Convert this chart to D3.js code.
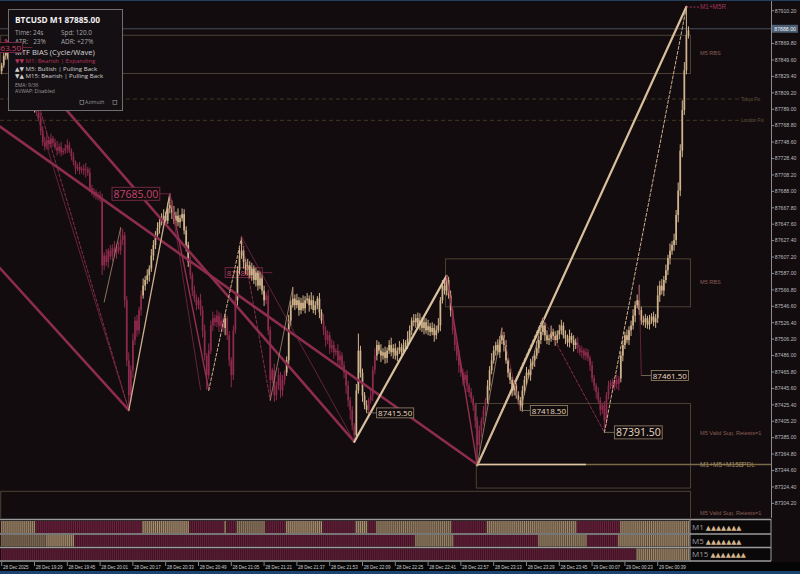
<!DOCTYPE html>
<html>
<head>
<meta charset="utf-8">
<script src="https://d3js.org/d3.v7.min.js"></script>
<style>
  html, body { margin: 0; padding: 0; background: #120c0f; }
  svg { display: block; }
  .ax { font-family: "Liberation Sans", Arial, sans-serif; }
  .ui { font-family: "Open Sans", "Noto Sans", sans-serif; }
  .sym { font-family: "DejaVu Sans", sans-serif; }
</style>
</head>
<body>
<svg id="chart" width="800" height="574"></svg>
<script>
// ---- data (M1 bars, BTCUSD) ----
const firstOpen = 87836;
const closes = [
  87843, 87855, 87864, 87852, 87842, 87834, 87837, 87827, 87820, 87822, 87812, 87806, 87810, 87800, 87795, 87799, 87790, 87785,
  87778, 87763, 87748, 87743, 87751, 87746, 87753, 87748, 87742, 87738, 87743, 87736, 87738, 87741, 87745, 87738, 87731, 87724,
  87716, 87718, 87714, 87716, 87714, 87715, 87711, 87692, 87686, 87687, 87682, 87683, 87679,
  87597, 87609, 87601, 87615, 87608, 87618, 87613, 87620, 87615, 87628, 87634, 87554, 87480, 87437, 87468, 87505, 87529, 87517, 87542,
  87560, 87572, 87579, 87585, 87593, 87609, 87622, 87634, 87643, 87650, 87655, 87658, 87652, 87667, 87671, 87662, 87652, 87658,
  87650, 87655, 87660, 87640, 87622, 87601, 87585, 87566, 87556, 87548, 87554, 87542, 87517, 87486, 87462, 87492, 87523, 87532,
  87527, 87535, 87523, 87529, 87520, 87532, 87511, 87480, 87462, 87517, 87554, 87591, 87609, 87615, 87601, 87591, 87597, 87585,
  87593, 87579, 87588, 87572, 87581,
  87566, 87554, 87560, 87517, 87456, 87468, 87437, 87449, 87462, 87443, 87456, 87465, 87480, 87529, 87548, 87556, 87548, 87554,
  87542, 87551, 87544, 87554, 87556, 87548, 87554, 87542, 87548, 87556, 87539, 87529, 87517, 87505, 87511, 87495, 87499, 87490,
  87492, 87480, 87486, 87474, 87465, 87449, 87431, 87419, 87400, 87388, 87443, 87492, 87465, 87437, 87425, 87419, 87431, 87437,
  87468, 87486, 87499, 87492, 87486, 87490, 87483, 87492, 87499, 87490, 87495, 87486, 87492, 87496, 87490, 87499, 87502, 87507,
  87517, 87529, 87527, 87532, 87523, 87529, 87520, 87527, 87517, 87522, 87515, 87520, 87511, 87517, 87523, 87554, 87572, 87566,
  87579, 87560, 87542, 87517, 87499, 87486, 87474, 87465, 87456, 87462, 87449, 87441, 87433, 87425, 87406, 87376,
  87394, 87406, 87419, 87431, 87449, 87468, 87480, 87492, 87499, 87490, 87505, 87511, 87499, 87480, 87465, 87456, 87443, 87449,
  87437, 87431, 87425, 87443, 87456, 87465, 87462, 87474, 87480, 87486, 87495, 87505, 87515, 87523, 87511, 87505, 87507, 87515,
  87510, 87505, 87512, 87517, 87523, 87511, 87507, 87502, 87510, 87505, 87499, 87502, 87495, 87490, 87492, 87486, 87490, 87483,
  87474, 87458, 87449, 87441, 87431, 87419, 87425, 87406, 87437, 87449, 87453, 87448, 87456, 87451, 87458, 87486, 87499, 87511,
  87505, 87517, 87523, 87535, 87548, 87554, 87542, 87529, 87527, 87532, 87524, 87529, 87534, 87527, 87532, 87560, 87572, 87566,
  87579, 87591, 87606, 87615, 87622, 87628, 87659, 87689, 87738, 87788, 87837, 87880, 87886
];
const wickHi = [
  3,4,2,5,3,6,2,4,3,5,2,4,6,3,2,5,
  4,3,8,6,5,7,9,4,6,3,5,8,4,6,3,5,
  7,4,3,5,2,4,6,3,5,8,3,6,4,5,3,4,
  5,6,4,8,3,7,5,9,4,6,16,8,4,5,10,6,
  8,5,7,4,6,9,5,7,4,8,6,5,7,4,6,8,
  5,7,14,6,8,5,9,4,7,6,5,4,7,3,6,5,
  4,8,5,7,3,9,6,8,4,7,5,9,4,6,3,5,
  4,6,8,5,9,17,6,4,8,5,7,4,6,3,8,5,
  6,4,7,5,3,8,5,9,4,6,3,5,7,6,14,5,
  8,4,6,9,5,7,4,10,6,5,3,7,4,8,5,6,
  4,7,5,3,8,6,4,5,3,6,4,5,3,8,21,6,
  5,4,6,3,7,5,9,6,4,8,5,7,4,6,9,5,
  6,4,8,5,7,3,9,6,4,8,5,7,9,4,6,5,
  8,4,7,5,6,9,4,7,5,5,4,6,3,5,4,7,
  3,5,4,6,3,5,4,3,5,6,4,5,3,7,5,9,
  6,4,7,5,9,4,6,3,5,4,7,3,5,4,6,5,
  7,4,8,5,6,9,5,7,9,4,6,5,8,4,6,5,
  7,7,4,6,5,8,4,6,5,7,4,6,3,5,4,3,
  5,4,3,6,4,3,5,4,6,3,5,4,7,3,5,6,
  4,7,5,6,8,5,7,19,4,6,5,3,7,4,6,5,
  12,6,8,5,7,4,9,5,8,6,10,8,12,10,35,5
];
const wickLo = [
  4,3,5,2,4,3,5,4,2,6,3,4,5,3,4,2,
  5,4,3,6,4,5,3,7,4,5,3,6,4,5,3,4,
  6,3,5,4,7,3,5,4,6,9,4,5,3,6,4,5,
  4,12,6,5,7,4,6,5,8,4,5,6,9,7,18,8,
  10,6,8,5,7,4,6,5,8,4,6,5,3,7,4,6,
  5,4,6,8,4,6,5,7,4,5,8,6,5,7,4,6,
  5,7,9,6,18,5,4,7,5,6,8,4,5,9,6,7,
  15,6,4,7,5,4,8,5,6,4,7,5,8,6,4,5,
  7,5,6,25,4,8,6,5,9,7,6,4,5,7,3,6,
  4,7,5,3,6,4,8,5,4,6,5,7,4,6,8,5,
  7,5,8,4,6,9,5,7,10,8,12,6,8,5,4,6,
  8,5,3.5,6,4,7,5,6,4,8,5,7,6,4,5,8,
  5,7,4,6,3,5,8,4,6,5,7,4,6,5,8,4,
  6,5,4,8,5,3,7,4,5,6,4,8,5,7,6,9,
  5,7,4,8,6,5,7,9,25,6,8,5,7,4,6,5,
  4,6,3,7,5,8,4,6,5,7,6,4,5,6.5,8,5,
  6,4,7,5,8,4,6,5,4,7,5,6,4,5,7,4,
  6,5,4,7,5,6,4,8,5,6,4,7,5,6,4,7,
  5,6,8,4,7,5,14.5,6,5,4,7,5,6,8,5,7,
  5,4,6,7,5,8,4,6,5,4,7,5,6,4,5,7,
  6,8,5,7,4,6,8,5,7,6,9,7,8,6,5,4
];

const timeTickBars = [0, 16, 32, 48, 64, 80, 96, 112, 128, 144, 160, 176, 192, 208, 224, 240, 256, 272, 288, 304, 320];
const timeLabels = ["28 Dec 2025", "28 Dec 19:29", "28 Dec 19:45", "28 Dec 20:01", "28 Dec 20:17", "28 Dec 20:33",
  "28 Dec 20:49", "28 Dec 21:05", "28 Dec 21:21", "28 Dec 21:37", "28 Dec 21:53", "28 Dec 22:09", "28 Dec 22:25",
  "28 Dec 22:41", "28 Dec 22:57", "28 Dec 23:13", "28 Dec 23:29", "28 Dec 23:45", "29 Dec 00:07", "29 Dec 00:23", "29 Dec 00:39"];
const priceTicks = [87910.2, 87869.8, 87849.6, 87829.4, 87809.2, 87789.0, 87768.8, 87748.6, 87728.4, 87708.2,
  87688.0, 87667.8, 87647.6, 87627.4, 87607.2, 87587.0, 87566.8, 87546.6, 87526.4, 87506.2, 87486.0, 87465.8,
  87445.6, 87425.4, 87405.2, 87385.0, 87364.8, 87344.6, 87324.4, 87304.2];
const currentPrice = 87888.00;

// bias segments: [fromBar, toBar, direction, strength]
const m1Bias = [[0,17,1,0.8],[17,69,-1,0.9],[69,92,1,0.9],[92,109,-1,0.8],[109,110,1,0.8],[110,115,-1,0.8],
  [115,129,1,0.6],[129,139,-1,0.8],[139,157,1,0.9],[157,173,-1,0.8],[173,179,1,0.9],[179,183,-1,0.8],
  [183,220,1,0.7],[220,237,-1,0.8],[237,281,1,0.8],[281,302,-1,0.9],[302,336,1,0.8]];
const m5Bias = [[0,22,1,0.35],[22,36,1,0.9],[36,202,-1,0.8],[202,221,1,0.7],[221,262,-1,0.8],[262,286,1,0.7],
  [286,301,-1,0.8],[301,336,1,0.8]];
const m15Bias = [[0,310,-1,0.7],[310,336,1,0.8]];
const biasArrows = ["▲▲▲▲▲▲▲", "▲▲▲▲▲▲▲", "▲▲▲▲▲▲▲"];

// zones: price bounds and first bar
const zones = [
  {name: "M5 RBS", top: 87880, bottom: 87833, from: 0},
  {name: "M5 RBS", top: 87605, bottom: 87546, from: 217},
  {name: "M5 Valid Sup, Retests=1", top: 87427, bottom: 87352, from: 232},
  {name: "", top: 87352, bottom: 87323, from: 232},
  {name: "M5 Valid Sup, Retests=1", top: 87319, bottom: 87262, from: 0}
];
const fixLevels = [{name: "Tokyo Fix", price: 87801.6}, {name: "London Fix", price: 87775.4}];
const pdl = {price: 87352, from: 232, brightTo: 285, name: "M1+M5+M15B", tag: "PDL"};
const resLevel = {price: 87914.7, from: 334, name: "M1+M5R"};

// legs: [fromBar, fromPrice, toBar, toPrice, kind]
const legs = [
  [-1, 87768, 232, 87352, "trend"],
  [-1, 87594, 62, 87419, "trend"],
  [2, 87874, 172, 87380, "trend"],
  [19, 87786, 62, 87419, "downDash"],
  [15, 87800, 62, 87419, "downThin"],
  [50, 87552, 58, 87643, "upThin"],
  [62, 87419, 82, 87685, "up"],
  [82, 87685, 101, 87444, "down"],
  [82, 87685, 97, 87444, "downThin"],
  [101, 87443, 117, 87632, "upDash"],
  [117, 87632, 172, 87380, "downThin"],
  [117, 87632, 131, 87431, "downDash"],
  [131, 87431, 142, 87570, "upThin"],
  [172, 87380, 217, 87584, "upBold"],
  [217, 87584, 232, 87351, "down"],
  [232, 87351, 334, 87915, "upBold"],
  [232, 87351, 264, 87532, "upDash"],
  [232, 87351, 244, 87520, "upThin"],
  [244, 87520, 253, 87418.5, "downThin"],
  [253, 87418.5, 264, 87532, "upThin"],
  [264, 87532, 294, 87391.5, "downDash"],
  [294, 87391.5, 334, 87915, "upDash"],
  [311, 87573, 312, 87461.5, "downThin"]
];

// swing labels: highs sit left of the pivot, lows right
const swingLabels = [
  {text: "87685.00", price: 87685, bar: 82, type: "high", rank: "major"},
  {text: "87588.00", price: 87588, bar: 132, type: "high", rank: "minor"},
  {text: "87415.50", price: 87415.5, bar: 178, type: "low", rank: "minor"},
  {text: "87418.50", price: 87418.5, bar: 253, type: "low", rank: "minor"},
  {text: "87391.50", price: 87391.5, bar: 294, type: "low", rank: "major"},
  {text: "87461.50", price: 87461.5, bar: 312, type: "low", rank: "minor"},
  {text: "87863.50", price: 87865, bar: 15, type: "high", rank: "minor"}
];

// ---- drawing ----
const bull = "#d2b48c", bear = "#8e2a4c";
const plotW = 771, plotH = 518;
const x = d3.scaleLinear().domain([0, 335]).range([1.7, 688.45]);
const y = d3.scaleLinear().domain([87287.4, 87923.4]).range([517, 0]);
const zoneEnd = x(closes.length);

const svg = d3.select("#chart");
svg.append("rect").attr("width", 800).attr("height", 574).attr("fill", "#120c0f");
svg.append("defs").append("clipPath").attr("id", "plotClip")
  .append("rect").attr("width", plotW).attr("height", plotH);

const g = svg.append("g").attr("clip-path", "url(#plotClip)");

function biasAt(segs, i) {
  const s = segs.find(d => i >= d[0] && i < d[1]);
  return s ? s[2] : 1;
}

// zones
zones.forEach(z => {
  g.append("rect")
    .attr("x", x(z.from) - 1).attr("y", y(z.top))
    .attr("width", zoneEnd - x(z.from) + 1).attr("height", y(z.bottom) - y(z.top))
    .attr("fill", "none").attr("stroke", "#4a4132").attr("stroke-width", 1);
  if (z.name) {
    g.append("text").attr("class", "ax")
      .attr("x", 700).attr("y", (y(z.top) + y(z.bottom)) / 2 + 1)
      .attr("font-size", 5.6).attr("fill", "#8c5e52").text(z.name);
  }
});

// session fixes
fixLevels.forEach(f => {
  g.append("line").attr("x1", 0).attr("x2", 739).attr("y1", y(f.price)).attr("y2", y(f.price))
    .attr("stroke", "#4a4424").attr("stroke-dasharray", "4,3").attr("stroke-width", 0.8);
  g.append("text").attr("class", "ax").attr("x", 741).attr("y", y(f.price) + 1.6)
    .attr("font-size", 4.6).attr("fill", "#62593a").text(f.name);
});

// current price line
g.append("line").attr("x1", 0).attr("x2", plotW).attr("y1", y(currentPrice)).attr("y2", y(currentPrice))
  .attr("stroke", "#56606c").attr("stroke-width", 0.8);

function drawLabel(layer, d) {
  const major = d.rank === "major";
  const fs = major ? 10.5 : 8;
  const col = d.type === "high" ? "#c8466e" : "#e8d8bf";
  const edge = d.type === "high" ? "#7e2c48" : "#8c7c62";
  const px = x(d.bar), py = y(d.price);
  const lg = layer.append("g");
  const box = lg.append("rect").attr("fill", "#120c0f").attr("stroke", edge).attr("stroke-width", 0.9);
  const t = lg.append("text").attr("class", "ui").attr("font-size", fs).attr("fill", col)
    .attr("dominant-baseline", "central").attr("y", py).text(d.text);
  const w = t.node().getComputedTextLength();
  const bx = d.type === "high" ? px - 10 - w - 3 : px + 10;
  t.attr("x", bx + 1.5);
  box.attr("x", bx).attr("y", py - fs * 0.62).attr("width", w + 3).attr("height", fs * 1.24);
  const cx = d.type === "high" ? bx + w + 3 : bx;
  lg.insert("line", "rect").attr("x1", cx).attr("x2", px).attr("y1", py).attr("y2", py)
    .attr("stroke", edge).attr("stroke-width", 0.8);
}

// label drawn beneath the candles
drawLabel(g, swingLabels[1]);

// candles
const bars = closes.map((c, i) => {
  const o = i === 0 ? firstOpen : closes[i - 1];
  return {i, o, c, h: Math.max(o, c) + wickHi[i], l: Math.min(o, c) - wickLo[i], dir: biasAt(m1Bias, i)};
});
const cg = g.append("g");
cg.selectAll("line").data(bars).join("line")
  .attr("x1", d => x(d.i)).attr("x2", d => x(d.i))
  .attr("y1", d => y(d.h)).attr("y2", d => y(d.l))
  .attr("stroke", d => d.dir > 0 ? bull : bear).attr("stroke-width", 1);
cg.selectAll("rect").data(bars).join("rect")
  .attr("x", d => x(d.i) - 0.85).attr("width", 1.7)
  .attr("y", d => y(Math.max(d.o, d.c)))
  .attr("height", d => Math.max(0.9, y(Math.min(d.o, d.c)) - y(Math.max(d.o, d.c))))
  .attr("fill", d => d.dir > 0 ? bull : bear);

// legs and trend lines
const legStyle = {
  trend:    {c: "#8d2c4e", w: 2.6, dash: null},
  upBold:   {c: "#d9c09c", w: 2.2, dash: null},
  up:       {c: "#cdb08c", w: 1.3, dash: null},
  upDash:   {c: "#cdb08c", w: 1.0, dash: "3,2"},
  upThin:   {c: "#a88e70", w: 0.8, dash: null},
  down:     {c: "#96304f", w: 1.4, dash: null},
  downDash: {c: "#96304f", w: 0.9, dash: "3,2"},
  downThin: {c: "#7a2844", w: 0.8, dash: null}
};
g.append("g").selectAll("line").data(legs).join("line")
  .attr("x1", d => x(d[0])).attr("y1", d => y(d[1]))
  .attr("x2", d => x(d[2])).attr("y2", d => y(d[3]))
  .attr("stroke", d => legStyle[d[4]].c).attr("stroke-width", d => legStyle[d[4]].w)
  .attr("stroke-dasharray", d => legStyle[d[4]].dash)
  .attr("stroke-linecap", "round");

// PDL level
g.append("line").attr("x1", x(pdl.from)).attr("x2", plotW).attr("y1", y(pdl.price)).attr("y2", y(pdl.price))
  .attr("stroke", "#7a6a48").attr("stroke-width", 1.4);
g.append("line").attr("x1", x(pdl.from)).attr("x2", x(pdl.brightTo)).attr("y1", y(pdl.price)).attr("y2", y(pdl.price))
  .attr("stroke", "#dcc6a4").attr("stroke-width", 1.6);
g.append("text").attr("class", "ax").attr("x", 700).attr("y", y(pdl.price) + 2.3)
  .attr("font-size", 6.6).attr("fill", "#a08a62").text(pdl.name + " ");
g.append("text").attr("class", "ax").attr("x", 742).attr("y", y(pdl.price) + 2.3)
  .attr("font-size", 6.6).attr("fill", "#9a8458").text(pdl.tag);

// resistance tag at the top
g.append("line").attr("x1", x(resLevel.from)).attr("x2", 699).attr("y1", y(resLevel.price)).attr("y2", y(resLevel.price))
  .attr("stroke", "#a3365a").attr("stroke-dasharray", "2,1.5").attr("stroke-width", 1);
g.append("text").attr("class", "ax").attr("x", 700).attr("y", y(resLevel.price) + 2.2)
  .attr("font-size", 6.4).attr("fill", "#a3365a").text(resLevel.name);

// swing labels on top
swingLabels.slice(2, 6).concat([swingLabels[0]]).forEach(d => drawLabel(g, d));

// info panel
const info = svg.append("g").attr("class", "ui");
info.append("rect").attr("x", 8.5).attr("y", 9.5).attr("width", 114).attr("height", 101)
  .attr("fill", "#140f12").attr("stroke", "#6e6e6e").attr("stroke-width", 1);
info.append("text").attr("x", 15).attr("y", 23).attr("font-size", 8.3).attr("font-weight", "bold")
  .attr("fill", "#f2f2f2").text("BTCUSD M1 87885.00");
const small = [["Time: 24s", 15, 34.5], ["Spd: 120.0", 61, 34.5], ["ATR:   23%", 15, 43.5], ["ADR: +27%", 61, 43.5]];
small.forEach(s => info.append("text").attr("x", s[1]).attr("y", s[2]).attr("font-size", 6.4)
  .attr("fill", "#a9a9a9").attr("xml:space", "preserve").text(s[0]));
info.append("text").attr("x", 15).attr("y", 55).attr("font-size", 7.6).attr("fill", "#d6d6d6")
  .text("MTF BIAS (Cycle/Wave)");
const biasLines = [["▼▼", " M1: Bearish | Expanding", "#b0345a", 63], ["▲▼", " M5: Bullish | Pulling Back", "#cfcfcf", 70.8],
  ["▼▲", " M15: Bearish | Pulling Back", "#cfcfcf", 78.3]];
biasLines.forEach(b => {
  const t = info.append("text").attr("x", 15).attr("y", b[3]).attr("font-size", 6.1).attr("fill", b[2]);
  t.append("tspan").attr("class", "sym").attr("font-size", 5.8).text(b[0]);
  t.append("tspan").text(b[1]);
});
info.append("text").attr("x", 15).attr("y", 86.5).attr("font-size", 5).attr("fill", "#9a9a9a").text("EMA: 9/36");
info.append("text").attr("x", 15).attr("y", 93).attr("font-size", 5).attr("fill", "#9a9a9a").text("AVWAP: Disabled");
info.append("text").attr("x", 85).attr("y", 104).attr("font-size", 5).attr("fill", "#9a9a9a").text("Azimuth");
[[80, 100.5], [113, 100.5]].forEach(p => info.append("rect").attr("x", p[0]).attr("y", p[1]).attr("width", 3.8)
  .attr("height", 3.8).attr("fill", "none").attr("stroke", "#9a9a9a").attr("stroke-width", 0.6));

// top swing label overlapping the panel edge
drawLabel(svg, swingLabels[6]);

// right price axis
svg.append("line").attr("x1", 771.5).attr("x2", 771.5).attr("y1", 0).attr("y2", plotH)
  .attr("stroke", "#8c8c8c").attr("stroke-width", 1);
const ya = svg.append("g").attr("class", "ax");
priceTicks.forEach(v => {
  ya.append("line").attr("x1", 771.5).attr("x2", 774).attr("y1", y(v)).attr("y2", y(v)).attr("stroke", "#8c8c8c");
  ya.append("text").attr("x", 774.8).attr("y", y(v) + 1.8).attr("font-size", 5.2).attr("fill", "#b9b9b9")
    .text(d3.format(".2f")(v));
});
ya.append("rect").attr("x", 772).attr("y", y(currentPrice) - 4).attr("width", 26).attr("height", 8)
  .attr("fill", "#4b5e74");
ya.append("text").attr("x", 774.3).attr("y", y(currentPrice) + 1.9).attr("font-size", 5.2).attr("fill", "#eef2f6")
  .text(d3.format(".2f")(currentPrice));

// bias panel
const rows = [{name: "M1", segs: m1Bias, y0: 521, y1: 533}, {name: "M5", segs: m5Bias, y0: 535, y1: 546.5},
  {name: "M15", segs: m15Bias, y0: 548.5, y1: 560}];
const panel = svg.append("g");
panel.append("rect").attr("x", 0).attr("y", 519).attr("width", 771).attr("height", 43).attr("fill", "#0b0809");
rows.forEach((r, k) => {
  r.segs.forEach(s => {
    panel.append("rect").attr("x", x(s[0]) - 1.02).attr("y", r.y0)
      .attr("width", x(s[1]) - x(s[0])).attr("height", r.y1 - r.y0)
      .attr("fill", s[2] > 0 ? "#5c4c3d" : "#3b1423");
  });
  const ids = d3.range(closes.length);
  panel.append("g").selectAll("rect").data(ids).join("rect")
    .attr("x", i => x(i) - 0.5).attr("width", 1).attr("y", r.y0).attr("height", r.y1 - r.y0)
    .attr("fill", i => biasAt(r.segs, i) > 0 ? bull : "#8c2a4c")
    .attr("opacity", i => r.segs.find(d => i >= d[0] && i < d[1])[3] * 0.75);
  const t = panel.append("text").attr("class", "ui").attr("x", 692).attr("y", (r.y0 + r.y1) / 2 + 3)
    .attr("font-size", 8).attr("fill", "#9e9e9e").text(r.name + " ");
  t.append("tspan").attr("class", "sym").attr("font-size", 6.6).attr("fill", bull).text(biasArrows[k]);
});
[519.5, 534, 547.5, 561].forEach(v => panel.append("line").attr("x1", 0).attr("x2", 771).attr("y1", v).attr("y2", v)
  .attr("stroke", "#9b9b9b").attr("stroke-width", 1.4));
[690, 771].forEach(v => panel.append("line").attr("x1", v).attr("x2", v).attr("y1", 519).attr("y2", 561)
  .attr("stroke", "#9b9b9b").attr("stroke-width", 1));

// time axis
const xa = svg.append("g").attr("class", "ax");
xa.append("rect").attr("x", 0).attr("y", 562).attr("width", 800).attr("height", 9).attr("fill", "#050505");
timeTickBars.forEach((b, k) => {
  xa.append("line").attr("x1", x(b)).attr("x2", x(b)).attr("y1", 562).attr("y2", 566).attr("stroke", "#bdbdbd")
    .attr("stroke-width", 0.7);
  xa.append("text").attr("x", x(b) + 1.2).attr("y", 568.6).attr("font-size", 4.5).attr("fill", "#cfcfcf")
    .text(timeLabels[k]);
});

// window frame strips
svg.append("rect").attr("x", 0).attr("y", 571).attr("width", 800).attr("height", 3).attr("fill", "#1d4470");
svg.append("rect").attr("x", 0).attr("y", 0).attr("width", 800).attr("height", 1).attr("fill", "#213f5e");
</script>
</body>
</html>
